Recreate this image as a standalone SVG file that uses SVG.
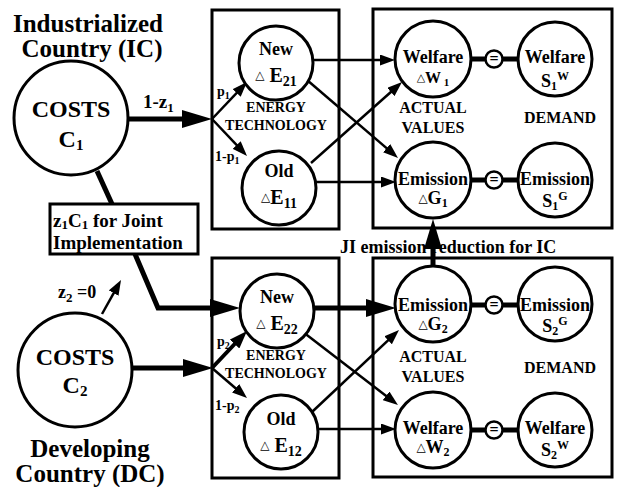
<svg xmlns="http://www.w3.org/2000/svg" width="618" height="487" viewBox="0 0 618 487">
<style>
text{font-family:"Liberation Serif","Times New Roman",serif;font-weight:bold;fill:#000}
.tri{font-family:"DejaVu Sans",sans-serif;font-weight:normal}
.node{fill:#fff;stroke:#000;stroke-width:3}
.box{fill:none;stroke:#000;stroke-width:3}
.thin{fill:none;stroke:#000;stroke-width:2.5}
.thick{fill:none;stroke:#000;stroke-width:5}
.med{fill:none;stroke:#000;stroke-width:4}
.eq{fill:#fff;stroke:#000;stroke-width:2.5}
.t25{font-size:25px}
.t24{font-size:24px}
.t19{font-size:19px}
.t18{font-size:18px}
.t16{font-size:16px}
.t14{font-size:14px}
.mid{text-anchor:middle}
</style>
<defs>
<marker id="ah" markerUnits="userSpaceOnUse" markerWidth="15" markerHeight="11" refX="8" refY="5.5" orient="auto"><path d="M0,0 L15,5.5 L0,11 z" fill="#000"/></marker>
<marker id="am" markerUnits="userSpaceOnUse" markerWidth="18" markerHeight="13" refX="9" refY="6.5" orient="auto"><path d="M0,0 L18,6.5 L0,13 z" fill="#000"/></marker>
<marker id="ab" markerUnits="userSpaceOnUse" markerWidth="30" markerHeight="18" refX="20" refY="9" orient="auto"><path d="M0,0 L30,9 L0,18 z" fill="#000"/></marker>
</defs>

<g id="frames">
<rect class="box" x="212" y="10" width="127" height="219"/>
<rect class="box" x="373" y="9" width="239" height="219"/>
<rect class="box" x="212" y="258" width="127" height="220"/>
<rect class="box" x="373" y="258" width="239" height="219"/>
</g>

<g id="connectors">
<path class="thick" d="M128,119 L202,119" marker-end="url(#ab)"/>
<path class="thin" d="M212,119 L242.2,87.1" marker-end="url(#ah)"/>
<path class="thin" d="M212,119 L242.2,150.9" marker-end="url(#ah)"/>
<path class="thin" d="M313,60 L388,60" marker-end="url(#ah)"/>
<path class="thin" d="M307,80 L392.7,153.4" marker-end="url(#ah)"/>
<path class="thin" d="M311,163 L396.8,86.7" marker-end="url(#ah)"/>
<path class="thin" d="M316,182 L389,182" marker-end="url(#ah)"/>
<path class="thick" d="M97,171 L112,204"/>
<path class="thick" d="M135,254 L158,308 L230,308" marker-end="url(#ab)"/>
<path class="thick" d="M132,368 L203,368" marker-end="url(#ab)"/>
<path class="med" d="M212,368 L240.8,337.5" marker-end="url(#am)"/>
<path class="thin" d="M212,368 L241.7,393.5" marker-end="url(#ah)"/>
<path class="thick" d="M314,308 L386,308" marker-end="url(#ab)"/>
<path class="thin" d="M303,332 L392.4,400.7" marker-end="url(#ah)"/>
<path class="thin" d="M312,412 L393.9,334.8" marker-end="url(#ah)"/>
<path class="thin" d="M318,429 L389,429" marker-end="url(#ah)"/>
<path class="thick" d="M433,267 L433,229" marker-end="url(#ab)"/>
<path class="thin" d="M102,314 L117.6,286.1" marker-end="url(#ah)"/>
<path class="thick" d="M470,59 L518,59"/>
<path class="thick" d="M470,180 L518,180"/>
<path class="thick" d="M470,305 L518,305"/>
<path class="thick" d="M470,430 L518,430"/>
</g>

<g id="labels">
<text class="t25 mid" x="88" y="32">Industrialized</text>
<text class="t25 mid" x="92" y="57">Country (IC)</text>
<text class="t25 mid" x="90" y="457">Developing</text>
<text class="t25 mid" x="90" y="482">Country (DC)</text>
<text class="t19" x="143" y="108">1-z<tspan font-size="13" dy="4">1</tspan></text>
<text class="t18" x="58" y="298">z<tspan font-size="13" dy="4">2</tspan><tspan dy="-4"> =0</tspan></text>
<text class="t14" x="217" y="96">p<tspan font-size="10" dy="3">1</tspan></text>
<text class="t14" x="215" y="161">1-p<tspan font-size="10" dy="3">1</tspan></text>
<text class="t14" x="217" y="346">p<tspan font-size="10" dy="3">2</tspan></text>
<text class="t14" x="215" y="410">1-p<tspan font-size="10" dy="3">2</tspan></text>
<text class="t14 mid" x="276" y="112">ENERGY</text>
<text class="t14 mid" x="276" y="130">TECHNOLOGY</text>
<text class="t14 mid" x="276" y="360">ENERGY</text>
<text class="t14 mid" x="276" y="378">TECHNOLOGY</text>
<text class="t16 mid" x="433" y="113">ACTUAL</text>
<text class="t16 mid" x="433" y="133">VALUES</text>
<text class="t16 mid" x="560" y="123">DEMAND</text>
<text class="t16 mid" x="433" y="362">ACTUAL</text>
<text class="t16 mid" x="433" y="382">VALUES</text>
<text class="t16 mid" x="560" y="373">DEMAND</text>
<text class="t18" x="340" y="253">JI emission  reduction for IC</text>
</g>

<g id="costs1">
<circle class="node" cx="71" cy="118" r="57"/>
<text class="t24 mid" x="71" y="117">COSTS</text>
<text class="t24 mid" x="71" y="147">C<tspan font-size="15" dy="3">1</tspan></text>
</g>
<g id="costs2">
<circle class="node" cx="75" cy="370" r="57"/>
<text class="t24 mid" x="75" y="365">COSTS</text>
<text class="t24 mid" x="75" y="393">C<tspan font-size="15" dy="3">2</tspan></text>
</g>
<g id="jibox">
<rect class="box" x="50" y="204" width="148" height="50" fill="#fff"/>
<text class="t19" x="53" y="227">z<tspan font-size="13" dy="2">1</tspan><tspan dy="-2">C</tspan><tspan font-size="13" dy="2">1</tspan><tspan dy="-2"> for Joint</tspan></text>
<text class="t19" x="53" y="249">Implementation</text>
</g>

<g id="new1">
<circle class="node" cx="276" cy="63" r="37"/>
<text class="t18 mid" x="276" y="55">New</text>
<text class="mid" x="276" y="82" font-size="20"><tspan class="tri" font-size="12" dy="-3">△</tspan><tspan dy="3"> E</tspan><tspan font-size="14" dy="4">21</tspan></text>
</g>
<g id="old1">
<circle class="node" cx="279" cy="188" r="37"/>
<text class="t18 mid" x="279" y="177">Old</text>
<text class="mid" x="279" y="204" font-size="20"><tspan class="tri" font-size="12" dy="-3">△</tspan><tspan dy="3">E</tspan><tspan font-size="14" dy="4">11</tspan></text>
</g>
<g id="new2">
<circle class="node" cx="277" cy="311" r="37"/>
<text class="t18 mid" x="277" y="303">New</text>
<text class="mid" x="277" y="330" font-size="20"><tspan class="tri" font-size="12" dy="-3">△</tspan><tspan dy="3"> E</tspan><tspan font-size="14" dy="4">22</tspan></text>
</g>
<g id="old2">
<circle class="node" cx="281" cy="432" r="37"/>
<text class="t18 mid" x="281" y="425">Old</text>
<text class="mid" x="281" y="452" font-size="20"><tspan class="tri" font-size="12" dy="-3">△</tspan><tspan dy="3"> E</tspan><tspan font-size="14" dy="4">12</tspan></text>
</g>

<g id="w1">
<circle class="node" cx="433" cy="59" r="38"/>
<text class="t18 mid" x="433" y="63">Welfare</text>
<text class="t16 mid" x="433" y="83"><tspan class="tri" font-size="11" dy="-2">△</tspan><tspan dy="2">W</tspan><tspan font-size="11" dy="3"> 1</tspan></text>
</g>
<g id="g1">
<circle class="node" cx="433" cy="180" r="38"/>
<text class="t18 mid" x="433" y="185">Emission</text>
<text class="t18 mid" x="433" y="204"><tspan class="tri" font-size="12" dy="-2">△</tspan><tspan dy="2">G</tspan><tspan font-size="12" dy="3">1</tspan></text>
</g>
<g id="s1w">
<circle class="node" cx="555" cy="59" r="37"/>
<text class="t18 mid" x="555" y="63">Welfare</text>
<text class="t18 mid" x="555" y="87">S<tspan font-size="12" dy="3">1</tspan><tspan font-size="12" dy="-10">W</tspan></text>
</g>
<g id="s1g">
<circle class="node" cx="555" cy="180" r="37"/>
<text class="t18 mid" x="555" y="185">Emission</text>
<text class="t18 mid" x="555" y="207">S<tspan font-size="12" dy="3">1</tspan><tspan font-size="12" dy="-10">G</tspan></text>
</g>
<g id="g2">
<circle class="node" cx="433" cy="304" r="38"/>
<text class="t18 mid" x="433" y="311">Emission</text>
<text class="t18 mid" x="433" y="330"><tspan class="tri" font-size="12" dy="-2">△</tspan><tspan dy="2">G</tspan><tspan font-size="12" dy="3">2</tspan></text>
</g>
<g id="w2">
<circle class="node" cx="433" cy="430" r="38"/>
<text class="t18 mid" x="433" y="434">Welfare</text>
<text class="t18 mid" x="433" y="453"><tspan class="tri" font-size="12" dy="-2">△</tspan><tspan dy="2">W</tspan><tspan font-size="12" dy="3">2</tspan></text>
</g>
<g id="s2g">
<circle class="node" cx="555" cy="304" r="37"/>
<text class="t18 mid" x="555" y="311">Emission</text>
<text class="t18 mid" x="555" y="332">S<tspan font-size="12" dy="3">2</tspan><tspan font-size="12" dy="-10">G</tspan></text>
</g>
<g id="s2w">
<circle class="node" cx="555" cy="430" r="37"/>
<text class="t18 mid" x="555" y="434">Welfare</text>
<text class="t18 mid" x="555" y="456">S<tspan font-size="12" dy="3">2</tspan><tspan font-size="12" dy="-10">W</tspan></text>
</g>

<g id="eq1"><circle class="eq" cx="494" cy="59" r="8.5"/><text class="t16 mid" x="494" y="64">=</text></g>
<g id="eq2"><circle class="eq" cx="494" cy="180" r="8.5"/><text class="t16 mid" x="494" y="185">=</text></g>
<g id="eq3"><circle class="eq" cx="494" cy="305" r="8.5"/><text class="t16 mid" x="494" y="310">=</text></g>
<g id="eq4"><circle class="eq" cx="494" cy="430" r="8.5"/><text class="t16 mid" x="494" y="435">=</text></g>
</svg>
